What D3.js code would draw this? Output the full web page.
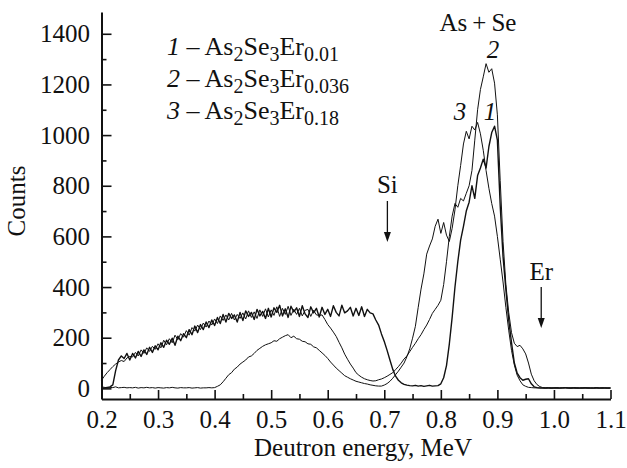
<!DOCTYPE html>
<html><head><meta charset="utf-8">
<script src="https://cdn.jsdelivr.net/npm/d3@7"></script>
<style>
html,body{margin:0;padding:0;background:#fff;}
svg{display:block;font-family:"Liberation Serif","Times New Roman",serif;}
svg text{font-family:"Liberation Serif","Times New Roman",serif;}
</style></head><body>
<svg id="chart" width="627" height="468"></svg>
<script>
// Deuteron backscattering spectra, channel grid: 0.200 ... 1.100 MeV, 0.005 MeV per channel
const energyStart = 0.2, energyStep = 0.005;

// 1 - As2Se3Er0.01
const counts1 = [
  0, 2, 4, 6, 14, 70, 112, 128, 118, 138,
  112, 138, 120, 146, 126, 152, 134, 162, 142, 168,
  152, 180, 162, 190, 174, 198, 170, 206, 188, 216,
  200, 232, 212, 246, 220, 252, 232, 262, 240, 270,
  248, 280, 256, 292, 262, 296, 276, 290, 262, 300,
  268, 306, 284, 300, 272, 312, 286, 304, 276, 316,
  282, 318, 300, 328, 286, 314, 280, 324, 302, 318,
  284, 326, 294, 280, 322, 298, 316, 282, 320, 292,
  312, 284, 326, 300, 286, 328, 298, 306, 320, 286,
  316, 288, 322, 284, 312, 298, 294, 270, 250, 215,
  185, 150, 112, 75, 48, 32, 22, 16, 13, 11,
  10, 12, 9, 11, 8, 10, 12, 9, 10, 11,
  18, 42, 90, 175, 280, 400, 500, 585, 640, 700,
  735, 800, 750, 840, 870, 905, 870, 955, 1010, 1035,
  980, 720, 520, 390, 270, 180, 100, 60, 42, 32,
  36, 38, 18, 6, 3, 2, 1, 2, 1, 2,
  1, 2, 1, 2, 2, 1, 2, 1, 2, 1,
  2, 1, 2, 1, 1, 2, 1, 2, 1, 2,
  1
];

// 2 - As2Se3Er0.036
const counts2 = [
  32, 48, 62, 74, 86, 96, 104, 110, 106, 120,
  126, 124, 142, 128, 152, 138, 160, 146, 166, 154,
  176, 160, 190, 172, 196, 180, 210, 192, 216, 202,
  228, 210, 240, 226, 250, 232, 258, 242, 266, 250,
  274, 256, 286, 268, 290, 270, 296, 270, 292, 276,
  298, 274, 306, 280, 302, 276, 310, 284, 314, 282,
  310, 288, 322, 284, 316, 292, 324, 288, 312, 292,
  316, 286, 308, 312, 284, 308, 290, 288, 290, 272,
  252, 238, 222, 205, 182, 160, 135, 115, 96, 80,
  62, 52, 44, 38, 34, 31, 29, 30, 34, 37,
  42, 48, 55, 62, 74, 86, 100, 116, 128, 145,
  162, 178, 196, 212, 232, 250, 272, 296, 312, 328,
  348, 410, 500, 600, 680, 730, 715, 750, 740, 770,
  800, 860, 980, 1100, 1180, 1230, 1282, 1248, 1262, 1205,
  1080, 820, 580, 410, 300, 220, 178, 165, 170, 156,
  136, 100, 56, 30, 15, 7, 3, 2, 3, 1,
  2, 3, 1, 2, 3, 2, 1, 3, 2, 1,
  2, 3, 2, 1, 2, 3, 1, 2, 2, 1,
  2
];

// 3 - As2Se3Er0.18
const counts3 = [
  6, 4, 2, 4, 3, 6, 2, 3, 4, 2,
  3, 2, 4, 1, 3, 2, 4, 2, 3, 1,
  3, 2, 1, 3, 2, 4, 2, 1, 3, 2,
  2, 3, 1, 2, 3, 1, 2, 2, 3, 2,
  3, 8, 14, 26, 40, 54, 62, 76, 84, 96,
  104, 112, 124, 128, 138, 150, 158, 166, 172, 176,
  180, 188, 186, 196, 202, 208, 212, 200, 206, 196,
  194, 186, 184, 176, 174, 164, 160, 150, 140, 130,
  118, 104, 92, 80, 70, 60, 50, 44, 38, 33,
  28, 25, 22, 19, 17, 14, 12, 10, 9, 9,
  13, 19, 28, 40, 54, 68, 84, 100, 125, 156,
  198, 245, 320, 392, 452, 530, 562, 590, 640, 668,
  612, 655, 605, 580, 632, 705, 800, 880, 965, 1015,
  985, 1035, 1020, 1050, 1005, 940, 860, 790, 730, 680,
  600, 510, 420, 320, 230, 150, 92, 52, 30, 14,
  8, 4, 3, 2, 2, 1, 2, 1, 2, 1,
  2, 1, 2, 1, 2, 2, 1, 2, 1, 2,
  1, 2, 1, 2, 1, 2, 2, 1, 2, 1,
  1
];

const xTicksMajor = [0.2, 0.3, 0.4, 0.5, 0.6, 0.7, 0.8, 0.9, 1.0, 1.1];
const xTicksMinor = [0.25, 0.35, 0.45, 0.55, 0.65, 0.75, 0.85, 0.95, 1.05];
const yTicksMajor = [0, 200, 400, 600, 800, 1000, 1200, 1400];
const yTicksMinor = [100, 300, 500, 700, 900, 1100, 1300];

const legendNumbers = ["1", "2", "3"];
const legendEr = ["0.01", "0.036", "0.18"];

const svg = d3.select("#chart");
const x = d3.scaleLinear().domain([0.2, 1.1]).range([101.5, 610.5]);
const y = d3.scaleLinear().domain([-42, 1486]).range([399, 12]);

const FONT = "'Liberation Serif', 'Times New Roman', serif";
const FS = 25;

// spectra
const line = d3.line()
  .x((d, i) => x(energyStart + i * energyStep))
  .y(d => y(d));

[[counts1, 1.4], [counts2, 1.0], [counts3, 1.0]].forEach(([data, w]) => {
  svg.append("path")
    .datum(data)
    .attr("d", line)
    .attr("fill", "none")
    .attr("stroke", "#111")
    .attr("stroke-width", w)
    .attr("stroke-linejoin", "round");
});

// axes
const gx = svg.append("g").attr("transform", `translate(0,${y.range()[0]})`);
gx.call(d3.axisBottom(x).tickValues(xTicksMajor).tickSize(-9).tickSizeOuter(0)
  .tickPadding(11).tickFormat(d3.format(".1f")));
gx.append("g").call(d3.axisBottom(x).tickValues(xTicksMinor).tickSize(-5).tickSizeOuter(0).tickFormat(""))
  .select(".domain").remove();

const gy = svg.append("g").attr("transform", `translate(${x.range()[0]},0)`);
gy.call(d3.axisLeft(y).tickValues(yTicksMajor).tickSize(-10).tickSizeOuter(0)
  .tickPadding(11.5).tickFormat(d3.format("d")));
gy.append("g").call(d3.axisLeft(y).tickValues(yTicksMinor).tickSize(-5).tickSizeOuter(0).tickFormat(""))
  .select(".domain").remove();

svg.selectAll("g").attr("font-family", null).attr("font-size", null);
svg.selectAll(".domain").attr("stroke", "#111").attr("stroke-width", 2);
svg.selectAll(".tick line").attr("stroke", "#111").attr("stroke-width", 1.6);
svg.selectAll(".tick text").style("font-family", FONT)
  .style("font-size", FS + "px").attr("fill", "#111");

// axis titles
svg.append("text").attr("x", 363).attr("y", 456).attr("text-anchor", "middle")
  .style("font-size", FS + "px").attr("fill", "#111").text("Deutron energy, MeV");
svg.append("text").attr("transform", "translate(25,201) rotate(-90)").attr("text-anchor", "middle")
  .style("font-size", FS + "px").attr("fill", "#111").text("Counts");

// legend
const LF = 26, SF = 20, SUB = 6;
legendNumbers.forEach((n, i) => {
  const t = svg.append("text").attr("x", 167).attr("y", 55 + i * 32)
    .style("font-size", LF + "px").attr("fill", "#111");
  t.append("tspan").attr("font-style", "italic").text(n);
  t.append("tspan").text(" \u2013 As");
  t.append("tspan").style("font-size", SF + "px").attr("dy", SUB).text("2");
  t.append("tspan").attr("dy", -SUB).text("Se");
  t.append("tspan").style("font-size", SF + "px").attr("dy", SUB).text("3");
  t.append("tspan").attr("dy", -SUB).text("Er");
  t.append("tspan").style("font-size", SF + "px").attr("dy", SUB).text(legendEr[i]);
});

// peak annotations
svg.append("text").attr("x", 478).attr("y", 31).attr("text-anchor", "middle")
  .style("font-size", FS + "px").attr("fill", "#111").text("As\u2009+\u2009Se");
[["2", 493, 58], ["3", 460, 120], ["1", 490, 120]].forEach(([s, px, py]) => {
  svg.append("text").attr("x", px).attr("y", py).attr("text-anchor", "middle")
    .style("font-size", FS + "px").attr("font-style", "italic").attr("fill", "#111").text(s);
});

// element markers with arrows
function marker(label, energy, ty, y0, y1) {
  const px = x(energy);
  svg.append("text").attr("x", px).attr("y", ty).attr("text-anchor", "middle")
    .style("font-size", FS + "px").attr("fill", "#111").text(label);
  svg.append("line").attr("x1", px).attr("x2", px).attr("y1", y0).attr("y2", y1 - 8)
    .attr("stroke", "#111").attr("stroke-width", 1.3);
  svg.append("path").attr("d", `M${px - 3.5},${y1 - 10}L${px + 3.5},${y1 - 10}L${px},${y1}Z`)
    .attr("fill", "#111");
}
marker("Si", 0.7055, 193, 201, 242);
marker("Er", 0.9775, 280, 287, 328);
</script>
</body></html>
